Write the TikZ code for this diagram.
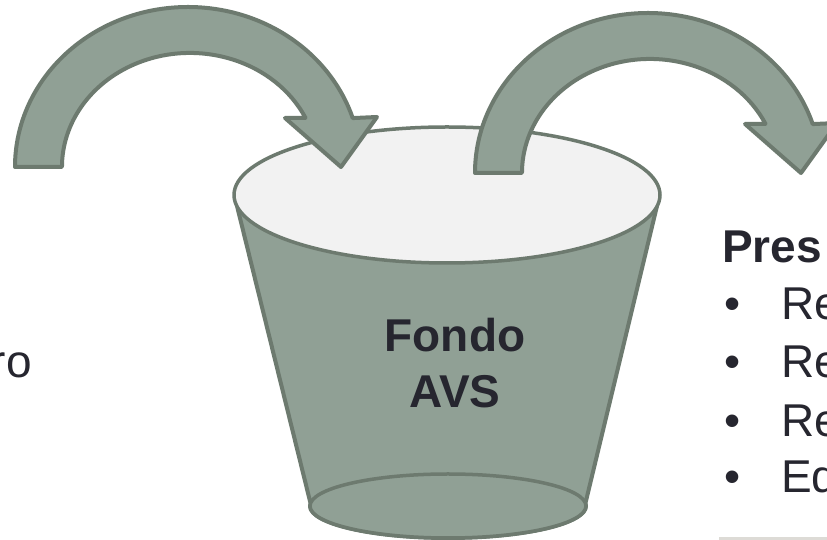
\documentclass[tikz,border=0pt]{standalone}
\usepackage{fontspec}
\setmainfont{Liberation Sans}
\definecolor{bucketfill}{HTML}{90A095}
\definecolor{bucketline}{HTML}{6D7A6F}
\definecolor{topfill}{HTML}{F2F2F2}
\definecolor{txt}{HTML}{26262F}
\definecolor{barcol}{HTML}{DDDBD6}
\tikzset{
  shapeline/.style={draw=bucketline, line width=4pt, line join=round},
  bigtext/.style={inner sep=0pt, text=txt, font=\fontsize{46}{56}\selectfont},
  boldtext/.style={bigtext, font=\fontsize{46}{56}\selectfont\bfseries},
}
\newcommand{\curvedarrow}{%
  (15,373) arc[start angle=180, end angle=17.8, x radius=173pt, y radius=160pt]
  -- (377,423) -- (341,373) -- (285,422) -- (305.5,422.1)
  arc[start angle=25.5, end angle=180, x radius=128pt, y radius=114pt]
  -- cycle}
\begin{document}
\begin{tikzpicture}[x=1pt,y=1pt]
\clip (0,0) rectangle (827,540);
\useasboundingbox (0,0) rectangle (827,540);
\fill[white] (0,0) rectangle (827,540);
% bucket body
\path[shapeline, fill=bucketfill] (237.2,333.2) -- (310.5,36.8)
  arc[start angle=175, end angle=365, x radius=138pt, y radius=32pt]
  -- (656.8,333.2) -- cycle;
\path[shapeline, line width=3.5pt, fill=bucketfill] (448,34) ellipse[x radius=138pt, y radius=32pt];
\path[shapeline, line width=3.5pt, fill=topfill] (447,345) ellipse[x radius=213pt, y radius=68pt];
% arrows
\path[shapeline, fill=bucketfill] \curvedarrow;
\begin{scope}[shift={(460,-6)}]
\path[shapeline, fill=bucketfill] \curvedarrow;
\end{scope}
% texts
\node[boldtext, anchor=base] (fondo) at (455,188) {Fondo};
\node[boldtext, anchor=base] (avs) at (455,132) {AVS};
\node[bigtext, anchor=base east] (ro) at (32,162) {ro};
\node[boldtext, anchor=base west] (pres) at (722,277) {Pres};
\foreach \yy/\tt [count=\i] in {220/Re,162/Re,103/Re,47/Ed}{
  \node[bigtext, anchor=base west] (b\i) at (724,\yy) {•};
  \node[bigtext, anchor=base west] (t\i) at (781,\yy) {\tt};
}
\fill[barcol] (719,0) rectangle (827,3);
\end{tikzpicture}
\end{document}
